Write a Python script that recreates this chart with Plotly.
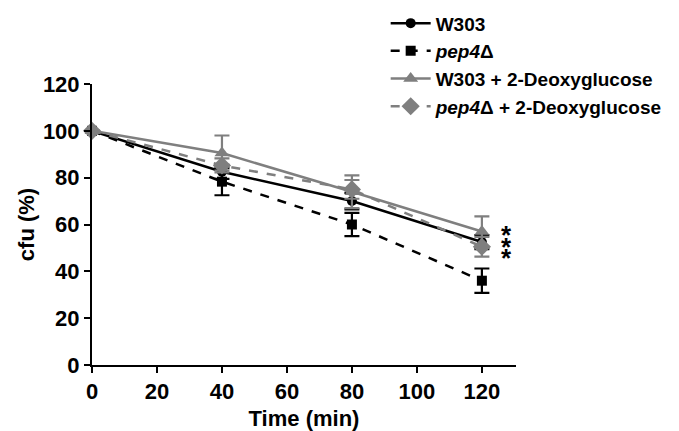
import plotly.graph_objects as go

time = [0, 40, 80, 120]
w303 = [100, 82.5, 70, 52.5]
w303_err = [0, 3, 3.5, 3]
pep4 = [100, 78.3, 60, 36]
pep4_err = [0, 5.8, 5, 5.2]
w303_dg = [100, 90.5, 74, 57]
w303_dg_err = [0, 7.5, 7, 6.5]
pep4_dg = [100, 85.2, 75, 50.5]
pep4_dg_err = [0, 3, 4, 4.2]
names = ["W303", "<i>pep4</i>Δ", "W303 + 2-Deoxyglucose", "<i>pep4</i>Δ + 2-Deoxyglucose"]
stars = ["*", "*", "*"]
star_y = [55.5, 50.6, 45.6]

FONT = "Liberation Sans, Arial, sans-serif"
BLACK = "#000000"
GRAY = "#7f7f7f"

series = [
    (w303, w303_err, names[0], BLACK, "solid", "circle", 10),
    (pep4, pep4_err, names[1], BLACK, "dash", "square", 10),
    (w303_dg, w303_dg_err, names[2], GRAY, "solid", "triangle-up", 13),
    (pep4_dg, pep4_dg_err, names[3], GRAY, "dash", "diamond", 14),
]

fig = go.Figure()
for ys, err, nm, col, dash, sym, sz in series:
    fig.add_trace(go.Scatter(
        x=time, y=ys, name=nm, mode="lines+markers",
        line=dict(color=col, width=2.5, dash=dash),
        marker=dict(color=col, symbol=sym, size=sz),
        error_y=dict(type="data", array=err, visible=True, color=col, thickness=2.2, width=7.5),
        cliponaxis=False,
    ))

for s, yv in zip(stars, star_y):
    fig.add_annotation(x=127.6, y=yv, text="<b>" + s + "</b>", showarrow=False,
                       font=dict(family=FONT, size=26, color=BLACK), xanchor="center", yanchor="middle")

fig.update_layout(
    width=679, height=431,
    margin=dict(l=92, r=163, t=84, b=66, autoexpand=False),
    plot_bgcolor="white", paper_bgcolor="white",
    font=dict(family=FONT, color=BLACK),
    legend=dict(xref="container", yref="container", x=0.568, y=0.99, xanchor="left", yanchor="top",
                font=dict(family=FONT, size=19, color=BLACK, weight="bold"),
                tracegroupgap=0, itemwidth=40, bgcolor="rgba(0,0,0,0)"),
    xaxis=dict(range=[0, 130.5], tickvals=[0, 20, 40, 60, 80, 100, 120],
               showline=True, linecolor=BLACK, linewidth=2, ticks="outside", ticklen=6,
               tickwidth=2, tickcolor=BLACK, showgrid=False, zeroline=False,
               tickfont=dict(family=FONT, size=22, color=BLACK, weight="bold"),
               title=dict(text="Time (min)", font=dict(family=FONT, size=22, color=BLACK, weight="bold"), standoff=7)),
    yaxis=dict(range=[0, 120], tickvals=[0, 20, 40, 60, 80, 100, 120],
               showline=True, linecolor=BLACK, linewidth=2, ticks="outside", ticklen=6,
               tickwidth=2, tickcolor=BLACK, showgrid=False, zeroline=False,
               tickfont=dict(family=FONT, size=22, color=BLACK, weight="bold"),
               title=dict(text="cfu (%)", font=dict(family=FONT, size=22, color=BLACK, weight="bold"), standoff=2)),
)

fig.write_html("out.html")
